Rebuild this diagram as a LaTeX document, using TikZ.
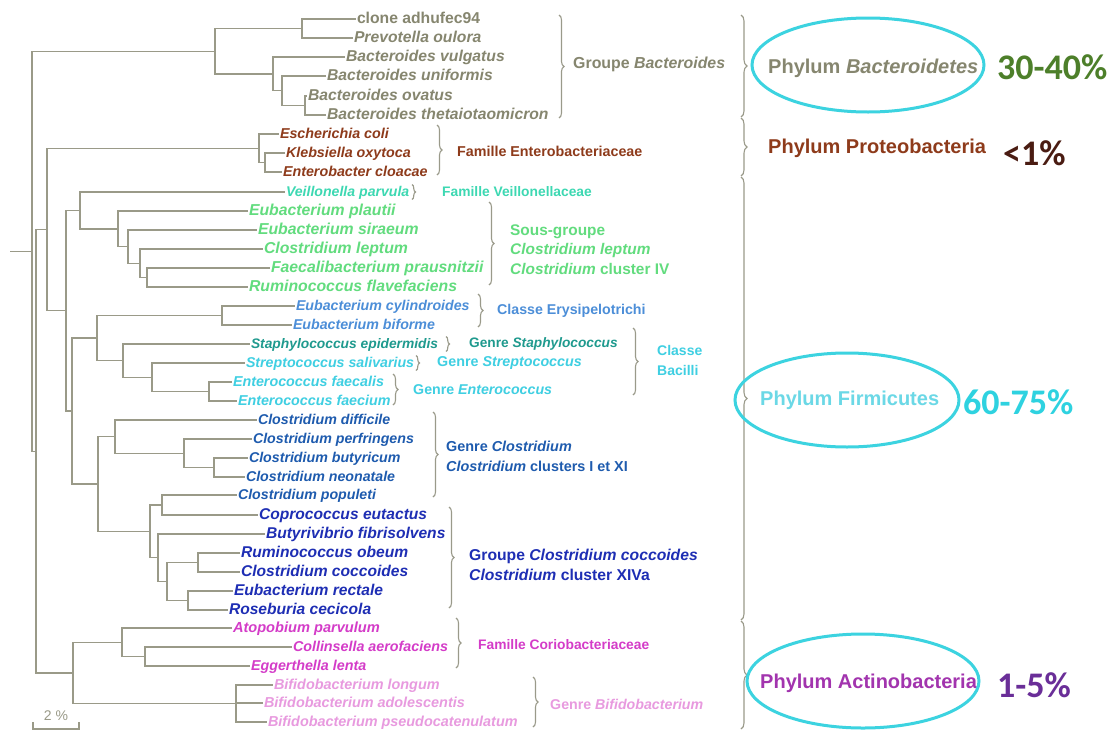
\documentclass[tikz,border=0pt]{standalone}
\usepackage{fontspec}
\setmainfont{Liberation Sans}
\newfontfamily\pctfont{Carlito}
\usetikzlibrary{decorations.pathreplacing,shapes.geometric}
\definecolor{treec}{HTML}{9A9A88}
\definecolor{brc}{HTML}{9A9A8A}
\definecolor{bacc}{HTML}{86866F}
\definecolor{protc}{HTML}{8E3B1B}
\definecolor{veilc}{HTML}{3DD8B2}
\definecolor{leptc}{HTML}{62DC7E}
\definecolor{eryc}{HTML}{4C8ED8}
\definecolor{staphc}{HTML}{1F9A8E}
\definecolor{strepc}{HTML}{3FCFE2}
\definecolor{closc}{HTML}{1E5BAE}
\definecolor{coccc}{HTML}{1E2EB4}
\definecolor{corioc}{HTML}{D43CC8}
\definecolor{bific}{HTML}{E89ADF}
\definecolor{ellc}{HTML}{3CD3E0}
\definecolor{pcA}{HTML}{4D7F2A}
\definecolor{pcB}{HTML}{4A1C12}
\definecolor{firmc}{HTML}{6BD8E6}
\definecolor{pcC}{HTML}{2ED2E0}
\definecolor{actc}{HTML}{A234AE}
\definecolor{pcD}{HTML}{6A2E98}
\begin{document}
\begin{tikzpicture}[x=1pt,y=-1pt,
  tl/.style={draw=treec, line width=1.4pt},
  leaf/.style={anchor=west, inner xsep=0.8pt, inner ysep=0pt, text height=10pt, text depth=2pt,
    font={\fontsize{#1}{#1}\selectfont\bfseries\itshape}},
  grp/.style={anchor=west, inner sep=0pt, align=left,
    font={\fontsize{#1}{19.5}\selectfont\bfseries}},
  br/.style={draw=brc, line width=1.1pt, decorate, decoration={brace, amplitude=#1}},
  br/.default=5pt,
  phy/.style={anchor=west, inner sep=0pt, font={\fontsize{20}{22}\selectfont\bfseries}},
  pct/.style={anchor=west, inner sep=0pt, font={\pctfont\fontsize{36}{36}\selectfont\bfseries}},
  ell/.style={draw=ellc, line width=3pt}]
\useasboundingbox[fill=white] (0,0) rectangle (1116,731);

% ---------- leaves ----------
\node[leaf=15.7, text=bacc] (l1) at (356,19) {\upshape clone adhufec94};
\node[leaf=15.7, text=bacc] (l2) at (353,38) {Prevotella oulora};
\node[leaf=15.7, text=bacc] (l3) at (345,57) {Bacteroides vulgatus};
\node[leaf=15.7, text=bacc] (l4) at (326,76) {Bacteroides uniformis};
\node[leaf=15.7, text=bacc] (l5) at (307,96) {Bacteroides ovatus};
\node[leaf=15.7, text=bacc] (l6) at (326,115) {Bacteroides thetaiotaomicron};
\node[leaf=14.3, text=protc] (l7) at (279,134) {Escherichia coli};
\node[leaf=14.3, text=protc] (l8) at (285,153) {Klebsiella oxytoca};
\node[leaf=14.3, text=protc] (l9) at (282,172) {Enterobacter cloacae};
\node[leaf=14.1, text=veilc] (l10) at (285,192) {Veillonella parvula};
\node[leaf=15.8, text=leptc] (l11) at (248,211) {Eubacterium plautii};
\node[leaf=15.8, text=leptc] (l12) at (257,230) {Eubacterium siraeum};
\node[leaf=15.8, text=leptc] (l13) at (263,249) {Clostridium leptum};
\node[leaf=15.8, text=leptc] (l14) at (270,268) {Faecalibacterium prausnitzii};
\node[leaf=15.8, text=leptc] (l15) at (248,287) {Ruminococcus flavefaciens};
\node[leaf=14.2, text=eryc] (l16) at (295,306) {Eubacterium cylindroides};
\node[leaf=14.2, text=eryc] (l17) at (292,325) {Eubacterium biforme};
\node[leaf=13.8, text=staphc] (l18) at (250,344) {Staphylococcus epidermidis};
\node[leaf=14.2, text=strepc] (l19) at (245,363) {Streptococcus salivarius};
\node[leaf=14.3, text=strepc] (l20) at (232,382) {Enterococcus faecalis};
\node[leaf=14.3, text=strepc] (l21) at (237,401) {Enterococcus faecium};
\node[leaf=14.2, text=closc] (l22) at (257,420) {Clostridium difficile};
\node[leaf=14.2, text=closc] (l23) at (252,439) {Clostridium perfringens};
\node[leaf=14.2, text=closc] (l24) at (248,458) {Clostridium butyricum};
\node[leaf=14.2, text=closc] (l25) at (245,477) {Clostridium neonatale};
\node[leaf=14.2, text=closc] (l26) at (237,495) {Clostridium populeti};
\node[leaf=15.6, text=coccc] (l27) at (258,515) {Coprococcus eutactus};
\node[leaf=15.6, text=coccc] (l28) at (265,534) {Butyrivibrio fibrisolvens};
\node[leaf=15.6, text=coccc] (l29) at (240,553) {Ruminococcus obeum};
\node[leaf=15.6, text=coccc] (l30) at (240,572) {Clostridium coccoides};
\node[leaf=15.6, text=coccc] (l31) at (233,591) {Eubacterium rectale};
\node[leaf=15.6, text=coccc] (l32) at (228,610) {Roseburia cecicola};
\node[leaf=14.6, text=corioc] (l33) at (232,628) {Atopobium parvulum};
\node[leaf=14.3, text=corioc] (l34) at (292,647) {Collinsella aerofaciens};
\node[leaf=14.3, text=corioc] (l35) at (250,666) {Eggerthella lenta};
\node[leaf=14.4, text=bific] (l36) at (273,685) {Bifidobacterium longum};
\node[leaf=14.4, text=bific] (l37) at (263,703) {Bifidobacterium adolescentis};
\node[leaf=14.4, text=bific] (l38) at (267,722) {Bifidobacterium pseudocatenulatum};

% ---------- internal nodes ----------
\coordinate (r0) at (10,251.2);
\coordinate (nRoot) at (32,251.2);
\coordinate (nbac) at (215,51.2);
\coordinate (ncp) at (302,28.5);
\coordinate (nb1) at (273,73.9);
\coordinate (nb2) at (282,90.75);
\coordinate (nb3) at (305,105.5);
\coordinate (nRest) at (36,451.2);
\coordinate (nFP) at (47,229.5);
\coordinate (nprot) at (259,148.25);
\coordinate (npr2) at (265,162.5);
\coordinate (nF1) at (66,310.7);
\coordinate (nA) at (80,210.4);
\coordinate (nB) at (118,228.8);
\coordinate (nC) at (128,246.6);
\coordinate (nD) at (140,263.25);
\coordinate (nE) at (147,277.5);
\coordinate (nF2) at (72,411);
\coordinate (nG) at (97,338);
\coordinate (nery) at (222,315.5);
\coordinate (nI) at (123,360.6);
\coordinate (nJ) at (152,377.25);
\coordinate (nent) at (209,391.5);
\coordinate (nH) at (98,484);
\coordinate (nK) at (115,436.6);
\coordinate (nL) at (184,453.25);
\coordinate (nM) at (214,467.5);
\coordinate (nN) at (150,531.4);
\coordinate (nO) at (162,505);
\coordinate (nP) at (158,557.75);
\coordinate (nQ) at (167,581.5);
\coordinate (nR) at (198,562.5);
\coordinate (nS) at (188,600.5);
\coordinate (nAct) at (73,672.9);
\coordinate (nU) at (122,642.25);
\coordinate (nV) at (145,656.5);
\coordinate (nW) at (236,703.5);

% ---------- branches ----------
\draw[tl] (r0) -- (nRoot);
\draw[tl] (nRoot) |- (nbac);  \draw[tl] (nRoot) |- (nRest);
\draw[tl] (nbac) |- (ncp);    \draw[tl] (nbac) |- (nb1);
\draw[tl] (ncp) |- (l1.west); \draw[tl] (ncp) |- (l2.west);
\draw[tl] (nb1) |- (l3.west); \draw[tl] (nb1) |- (nb2);
\draw[tl] (nb2) |- (l4.west); \draw[tl] (nb2) |- (nb3);
\draw[tl] (nb3) |- (l5.west); \draw[tl] (nb3) |- (l6.west);
\draw[tl] (nRest) |- (nFP);   \draw[tl] (nRest) |- (nAct);
\draw[tl] (nFP) |- (nprot);   \draw[tl] (nFP) |- (nF1);
\draw[tl] (nprot) |- (l7.west); \draw[tl] (nprot) |- (npr2);
\draw[tl] (npr2) |- (l8.west);  \draw[tl] (npr2) |- (l9.west);
\draw[tl] (nF1) |- (nA);      \draw[tl] (nF1) |- (nF2);
\draw[tl] (nA) |- (l10.west); \draw[tl] (nA) |- (nB);
\draw[tl] (nB) |- (l11.west); \draw[tl] (nB) |- (nC);
\draw[tl] (nC) |- (l12.west); \draw[tl] (nC) |- (nD);
\draw[tl] (nD) |- (l13.west); \draw[tl] (nD) |- (nE);
\draw[tl] (nE) |- (l14.west); \draw[tl] (nE) |- (l15.west);
\draw[tl] (nF2) |- (nG);      \draw[tl] (nF2) |- (nH);
\draw[tl] (nG) |- (nery);     \draw[tl] (nG) |- (nI);
\draw[tl] (nery) |- (l16.west); \draw[tl] (nery) |- (l17.west);
\draw[tl] (nI) |- (l18.west); \draw[tl] (nI) |- (nJ);
\draw[tl] (nJ) |- (l19.west); \draw[tl] (nJ) |- (nent);
\draw[tl] (nent) |- (l20.west); \draw[tl] (nent) |- (l21.west);
\draw[tl] (nH) |- (nK);       \draw[tl] (nH) |- (nN);
\draw[tl] (nK) |- (l22.west); \draw[tl] (nK) |- (nL);
\draw[tl] (nL) |- (l23.west); \draw[tl] (nL) |- (nM);
\draw[tl] (nM) |- (l24.west); \draw[tl] (nM) |- (l25.west);
\draw[tl] (nN) |- (nO);       \draw[tl] (nN) |- (nP);
\draw[tl] (nO) |- (l26.west); \draw[tl] (nO) |- (l27.west);
\draw[tl] (nP) |- (l28.west); \draw[tl] (nP) |- (nQ);
\draw[tl] (nQ) |- (nR);       \draw[tl] (nQ) |- (nS);
\draw[tl] (nR) |- (l29.west); \draw[tl] (nR) |- (l30.west);
\draw[tl] (nS) |- (l31.west); \draw[tl] (nS) |- (l32.west);
\draw[tl] (nAct) |- (nU);     \draw[tl] (nAct) |- (nW);
\draw[tl] (nU) |- (l33.west); \draw[tl] (nU) |- (nV);
\draw[tl] (nV) |- (l34.west); \draw[tl] (nV) |- (l35.west);
\draw[tl] (nW) |- (l36.west); \draw[tl] (nW) |- (l37.west); \draw[tl] (nW) |- (l38.west);

% ---------- group braces and labels ----------
\draw[br=5pt] (559,15) -- (559,118);
\node[grp=15.9, text=bacc] (gbac) at (573,64) {Groupe \textit{Bacteroides}};
\draw[br=5pt] (437,125) -- (437,175);
\node[grp=14.3, text=protc] (gent) at (457,151) {Famille Enterobacteriaceae};
\draw[br=3.5pt] (412,184.5) -- (412,199.5);
\node[grp=13.8, text=veilc] (gveil) at (442,192) {Famille Veillonellaceae};
\draw[br=3.5pt] (446,336.5) -- (446,351.5);
\node[grp=13.7, text=staphc] (gstaph) at (469,344) {Genre \textit{Staphylococcus}};
\draw[br=3.5pt] (416,355.5) -- (416,370.5);
\node[grp=14.3, text=strepc] (gstrep) at (437,363) {Genre \textit{Streptococcus}};
\draw[br=5pt] (489,202) -- (489,285);
\node[grp=15.4, text=leptc] (glept) at (510,249.5) {Sous-groupe\\\textit{Clostridium leptum}\\\textit{Clostridium} cluster IV};
\draw[br=5pt] (478,294) -- (478,327);
\node[grp=14.2, text=eryc] (gery) at (497,311) {Classe Erysipelotrichi};
\draw[br=5pt] (633,328) -- (633,395);
\node[grp=14, text=strepc] (gbac2) at (657,360.5) {Classe\\Bacilli};
\draw[br=5pt] (393,374) -- (393,405);
\node[grp=14.2, text=strepc] (gentc) at (413,390) {Genre \textit{Enterococcus}};
\draw[br=5pt] (433,412) -- (433,497);
\node[grp=14.4, text=closc] (gclos) at (446,456.5) {Genre \textit{Clostridium}\\\textit{Clostridium} clusters I et XI};
\draw[br=5pt] (449,507) -- (449,608);
\node[grp=15.7, text=coccc] (gcocc) at (469,565) {Groupe \textit{Clostridium coccoides}\\\textit{Clostridium} cluster XIVa};
\draw[br=5pt] (456,618) -- (456,668);
\node[grp=13.8, text=corioc] (gcorio) at (478,645) {Famille Coriobacteriaceae};
\draw[br=5pt] (533,677) -- (533,727);
\node[grp=14.2, text=bific] (gbifi) at (550,704) {Genre \textit{Bifidobacterium}};

% ---------- phylum braces ----------
\draw[br=6pt] (741,15) -- (741,117);
\draw[br=6pt] (741,118) -- (741,176);
\draw[br=6pt] (741,177) -- (741,620);
\draw[br=6pt] (741,621) -- (741,729);

% ---------- phylum labels ----------
\node[phy, text=bacc] (p1) at (768,68) {Phylum \textit{Bacteroidetes}};
\draw[ell] (868,65) ellipse [x radius=116, y radius=47];
\node[pct, text=pcA] (q1) at (997,67) {30-40\%};
\node[phy, text=protc] (p2) at (768,148) {Phylum Proteobacteria};
\node[pct, text=pcB] (q2) at (1003,153) {<1\%};
\node[phy, text=firmc] (p3) at (760,400) {Phylum Firmicutes};
\draw[ell] (847,400) ellipse [x radius=112, y radius=47];
\node[pct, text=pcC] (q3) at (963,402) {60-75\%};
\node[phy, text=actc] (p4) at (760,683) {Phylum Actinobacteria};
\draw[ell] (863,681) ellipse [x radius=116, y radius=47];
\node[pct, text=pcD] (q4) at (997,685) {1-5\%};

% ---------- scale bar ----------
\coordinate (sb1) at (33,729);
\coordinate (sb2) at (79,729);
\draw[tl, line width=1.3pt] ([yshift=7pt]sb1) -- (sb1) -- (sb2) -- ([yshift=7pt]sb2);
\node[font={\fontsize{14}{15}\selectfont}, text=treec, inner sep=0pt] (sbl) at (56,716) {2 \%};
\end{tikzpicture}
\end{document}
